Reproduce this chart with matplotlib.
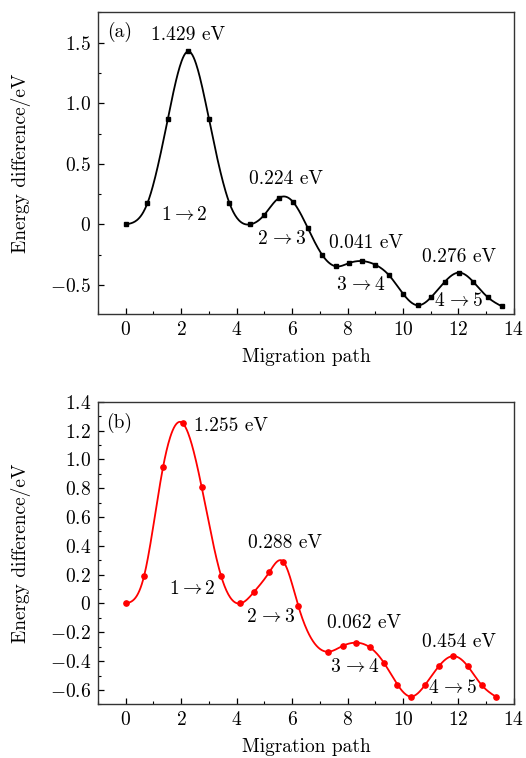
import numpy as np
import matplotlib
matplotlib.use("Agg")
import matplotlib.pyplot as plt
from matplotlib.ticker import MultipleLocator, FuncFormatter

plt.rcParams['font.family'] = 'serif'
plt.rcParams['font.serif'] = ['cmr10']
plt.rcParams['mathtext.fontset'] = 'cm'
plt.rcParams['axes.formatter.use_mathtext'] = True
plt.rcParams['axes.unicode_minus'] = True

#%% data

# panel (a)
xa = [0.0, 0.78, 1.52, 2.26, 3.0, 3.74, 4.49, 4.98, 5.52, 6.04, 6.56, 7.08,
      7.6, 8.06, 8.53, 9.0, 9.5, 10.0, 10.53, 11.02, 11.51, 12.03, 12.53, 13.05, 13.57]
ya = [0.0, 0.173, 0.872, 1.429, 0.872, 0.176, 0.0, 0.074, 0.217, 0.184, -0.027, -0.25,
      -0.347, -0.319, -0.303, -0.333, -0.421, -0.572, -0.668, -0.6, -0.473, -0.398, -0.473, -0.6, -0.677]
barriers_a = ['1.429 eV', '0.224 eV', '0.041 eV', '0.276 eV']
steps_a = [r'$1{\rightarrow}2$', r'$2\,{\rightarrow}3$', r'$3\,{\rightarrow}4$', r'$4\,{\rightarrow}5$']

# panel (b)
xb = [0.0, 0.66, 1.35, 2.06, 2.74, 3.44, 4.13, 4.64, 5.17, 5.69, 6.23, 7.31,
      7.82, 8.3, 8.81, 9.31, 9.8, 10.28, 10.79, 11.3, 11.81, 12.33, 12.84, 13.34]
yb = [0.0, 0.189, 0.95, 1.25, 0.807, 0.191, 0.0, 0.083, 0.215, 0.288, -0.021, -0.335,
      -0.295, -0.272, -0.305, -0.411, -0.563, -0.646, -0.567, -0.434, -0.365, -0.434, -0.567, -0.646]
barriers_b = ['1.255 eV', '0.288 eV', '0.062 eV', '0.454 eV']
steps_b = [r'$1{\rightarrow}2$', r'$2\,{\rightarrow}3$', r'$3\,{\rightarrow}4$', r'$4\,{\rightarrow}5$']

FS = 14


def natural_spline(x, y, n=600):
    x = np.asarray(x, float)
    y = np.asarray(y, float)
    m = len(x)
    h = np.diff(x)
    A = np.zeros((m, m))
    r = np.zeros(m)
    A[0, 0] = 1
    A[-1, -1] = 1
    for i in range(1, m - 1):
        A[i, i - 1] = h[i - 1]
        A[i, i] = 2 * (h[i - 1] + h[i])
        A[i, i + 1] = h[i]
        r[i] = 3 * ((y[i + 1] - y[i]) / h[i] - (y[i] - y[i - 1]) / h[i - 1])
    c = np.linalg.solve(A, r)
    b = (y[1:] - y[:-1]) / h - h * (2 * c[:-1] + c[1:]) / 3
    d = (c[1:] - c[:-1]) / (3 * h)
    xs = np.linspace(x[0], x[-1], n)
    k = np.clip(np.searchsorted(x, xs) - 1, 0, m - 2)
    t = xs - x[k]
    ys = y[k] + b[k] * t + c[k] * t**2 + d[k] * t**3
    return xs, ys


def ytick_fmt(v, pos):
    if abs(v) < 1e-9:
        return r'$0$'
    return r'$%.1f$' % v


def style_axes(ax, ymin, ymax, ymaj, ymin_step):
    ax.set_xlim(-1, 14)
    ax.set_ylim(ymin, ymax)
    ax.xaxis.set_major_locator(MultipleLocator(2))
    ax.xaxis.set_minor_locator(MultipleLocator(1))
    ax.yaxis.set_major_locator(MultipleLocator(ymaj))
    ax.yaxis.set_minor_locator(MultipleLocator(ymin_step))
    ax.yaxis.set_major_formatter(FuncFormatter(ytick_fmt))
    ax.xaxis.set_major_formatter(FuncFormatter(lambda v, p: r'$%d$' % v))
    ax.tick_params(which='both', direction='in', top=False, right=False, labelsize=FS)
    ax.tick_params(which='major', length=4.5, width=0.9, pad=5)
    ax.tick_params(which='minor', length=2.5, width=0.8)
    for s in ax.spines.values():
        s.set_linewidth(1.0)
        s.set_color('#333333')
    ax.set_xlabel('Migration path', fontsize=FS, labelpad=6)
    ax.set_ylabel('Energy difference/eV', fontsize=FS)
    ax.yaxis.set_label_coords(-0.162, 0.5)


fig = plt.figure(figsize=(5.26, 7.58), dpi=100)
ax1 = fig.add_axes([0.1863, 0.5854, 0.7907, 0.3992])
ax2 = fig.add_axes([0.1863, 0.0708, 0.7907, 0.3992])

# (a)
xs, ys = natural_spline(xa, ya)
ax1.plot(xs, ys, color='black', lw=1.3)
ax1.plot(xa, ya, 's', color='black', ms=3.4)
style_axes(ax1, -0.742, 1.756, 0.5, 0.25)
ax1.text(0.022, 0.933, '(a)', transform=ax1.transAxes, fontsize=FS, va='center', ha='left')
pos_ba = [(2.25, 1.56), (5.78, 0.377), (8.65, -0.153), (12.03, -0.27)]
pos_sa = [(2.13, 0.074), (5.65, -0.118), (8.5, -0.503), (12.02, -0.63)]
for t, (x, y) in zip(barriers_a, pos_ba):
    ax1.text(x, y, t, fontsize=FS, ha='center', va='center')
for t, (x, y) in zip(steps_a, pos_sa):
    ax1.text(x, y, t, fontsize=FS, ha='center', va='center')

# (b)
xs, ys = natural_spline(xb, yb)
ax2.plot(xs, ys, color='red', lw=1.3)
ax2.plot(xb, yb, 'o', color='red', ms=3.8)
style_axes(ax2, -0.7, 1.4, 0.2, 0.1)
ax2.text(0.019, 0.929, '(b)', transform=ax2.transAxes, fontsize=FS, va='center', ha='left')
pos_bb = [(3.78, 1.234), (5.76, 0.421), (8.58, -0.138), (12.03, -0.266)]
pos_sb = [(2.4, 0.099), (5.24, -0.093), (8.28, -0.439), (11.78, -0.588)]
for t, (x, y) in zip(barriers_b, pos_bb):
    ax2.text(x, y, t, fontsize=FS, ha='center', va='center')
for t, (x, y) in zip(steps_b, pos_sb):
    ax2.text(x, y, t, fontsize=FS, ha='center', va='center')

fig.savefig('out.png', dpi=100)
